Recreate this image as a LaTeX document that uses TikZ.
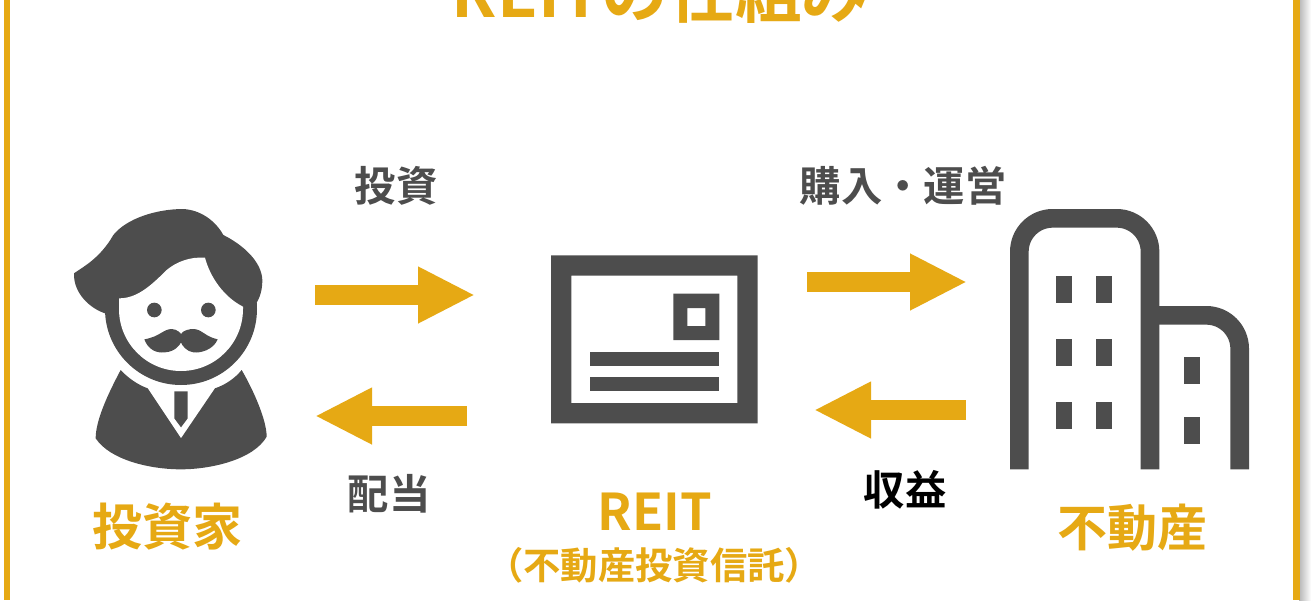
\documentclass[tikz,border=0pt]{standalone}
\usepackage{fontspec}
\setmainfont{Noto Sans CJK JP}[BoldFont={Noto Sans CJK JP Bold}]
\usetikzlibrary{arrows.meta}
\definecolor{gold}{HTML}{E6A914}
\definecolor{ink}{HTML}{4D4D4D}
\tikzset{
  blockarrow/.style={draw=gold,line width=15pt,-{Triangle[length=42.75pt,width=39.5pt,sep=0pt]},shorten >=0pt},
  darktext/.style={text=ink,font=\bfseries\fontsize{31}{31}\selectfont,inner sep=0pt,anchor=center},
  goldtext/.style={text=gold,font=\bfseries\fontsize{37.5}{37.5}\selectfont,inner sep=0pt,anchor=center},
  icon/.style={fill=ink,draw=none},
  hole/.style={fill=white,draw=none},
  framebar/.style={fill=gold,draw=none},
  bldg/.style={draw=ink,line width=14pt,line join=round}
}
\begin{document}
\begin{tikzpicture}[x=0.75pt,y=-0.75pt]
\useasboundingbox (0,0) rectangle (1312,600);
\clip (0,0) rectangle (1312,600);
\fill[white] (0,0) rectangle (1312,600);
% frame
\shade[left color=black!28,right color=white] (1299,0) rectangle (1311,600);
\fill[framebar] (4,0) rectangle (10,600);
\fill[framebar] (1293,0) rectangle (1299.5,600);
% title
\node[text=gold,font=\bfseries\fontsize{50}{50}\selectfont,inner sep=0pt,anchor=base] (title) at (660,17) {REITの仕組み};
% person
\begin{scope}[shift={(50,190)},scale=1/3]
\fill[icon] (393,357) circle[radius=228];
\fill[icon] (72,250) .. controls (100,230) and (150,205) .. (190,135)
  .. controls (230,85) and (320,57) .. (400,57)
  .. controls (450,60) and (495,90) .. (520,135)
  .. controls (580,165) and (635,215) .. (637,270)
  .. controls (637,300) and (630,325) .. (615,345)
  -- (165,370) .. controls (120,355) and (70,310) .. (72,250) -- cycle;
\fill[hole] (207,325) .. controls (260,325) and (300,290) .. (350,240)
  .. controls (380,215) and (420,200) .. (465,203)
  .. controls (480,260) and (520,320) .. (579,350)
  -- (579,357) arc[start angle=0,end angle=180,radius=186] -- cycle;
\fill[icon] (313,360) circle[radius=22];
\fill[icon] (475,360) circle[radius=22];
\fill[icon] (283,448) .. controls (330,440) and (340,417) .. (365,417)
  .. controls (380,417) and (393,430) .. (393,432)
  .. controls (400,420) and (420,417) .. (430,417)
  .. controls (455,417) and (465,440) .. (503,448)
  .. controls (490,480) and (450,490) .. (430,487)
  .. controls (410,485) and (395,465) .. (393,457)
  .. controls (390,465) and (375,485) .. (345,487)
  .. controls (320,490) and (295,480) .. (283,448) -- cycle;
\fill[icon] (212,540) .. controls (235,565) and (265,585) .. (293,595) -- (393,745) -- (495,595)
  .. controls (525,585) and (555,565) .. (575,540)
  .. controls (610,600) and (650,690) .. (650,740)
  .. controls (610,810) and (480,838) .. (393,838)
  .. controls (300,838) and (180,810) .. (137,745)
  .. controls (137,690) and (175,610) .. (212,540) -- cycle;
\fill[icon] (373,604) -- (413,604) -- (413,685) -- (393,712) -- (373,685) -- cycle;
\end{scope}
% card
\begin{scope}[shift={(530,240)},scale=1/3]
\fill[icon,even odd rule] (63,46) rectangle (683,550) (124,107) rectangle (622,489);
\fill[icon,even odd rule] (430,161) rectangle (568,300) (472,204) rectangle (526,258);
\fill[icon] (179,335) rectangle (568,377);
\fill[icon] (179,412) rectangle (568,454);
\end{scope}
% building
\begin{scope}[shift={(990,190)},scale=1/3]
\draw[bldg] (88,838) -- (88,185) arc[start angle=180,end angle=270,radius=100] -- (380,85) arc[start angle=270,end angle=360,radius=100] -- (480,838);
\draw[bldg] (480,376) -- (649,376) arc[start angle=270,end angle=360,radius=100] -- (749,838);
\foreach \yy in {258,447,635}{
  \fill[icon] (197,\yy) rectangle +(49,82);
  \fill[icon] (318,\yy) rectangle +(48,82);
}
\fill[icon] (583,500) rectangle (631,582);
\fill[icon] (583,681) rectangle (631,763);
\end{scope}
% arrows
\coordinate (a1s) at (315,295); \coordinate (a1e) at (475,295);
\coordinate (a2s) at (467,416); \coordinate (a2e) at (315,416);
\coordinate (a3s) at (807,282); \coordinate (a3e) at (967,282);
\coordinate (a4s) at (966,410); \coordinate (a4e) at (814,410);
\draw[blockarrow] (a1s) -- (a1e);
\draw[blockarrow] (a2s) -- (a2e);
\draw[blockarrow] (a3s) -- (a3e);
\draw[blockarrow] (a4s) -- (a4e);
% labels
\node[darktext] (l1) at (396,186) {投資};
\node[darktext] (l2) at (903,186) {購入・運営};
\node[darktext] (l3) at (389,494) {配当};
\node[darktext,text=black] (l4) at (905,490) {収益};
\node[goldtext] (l5) at (167,527) {投資家};
\node[goldtext] (l6) at (1132,528) {不動産};
\node[goldtext,font=\bfseries\fontsize{38}{38}\selectfont] (l7) at (655,512) {REIT};
\node[text=gold,font=\bfseries\fontsize{28}{28}\selectfont,inner sep=0pt] (l8) at (654,565) {（不動産投資信託）};
\end{tikzpicture}
\end{document}
